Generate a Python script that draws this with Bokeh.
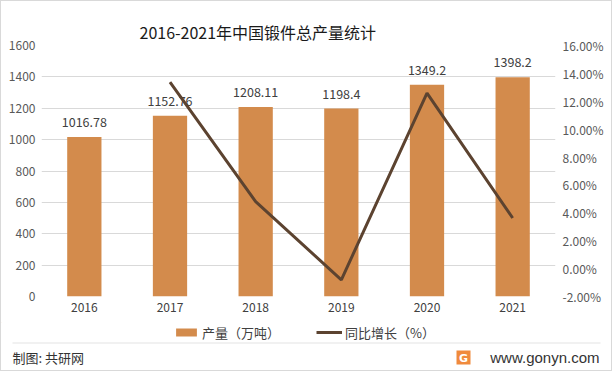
from bokeh.plotting import figure
from bokeh.layouts import column
from bokeh.models import (Range1d, LinearAxis, Legend, LegendItem,
                          FixedTicker, CustomJSTickFormatter, ColumnDataSource)
from bokeh.embed import file_html
from bokeh.resources import INLINE
from bokeh.core.properties import value

years = ["2016", "2017", "2018", "2019", "2020", "2021"]
output = [1016.78, 1152.76, 1208.11, 1198.4, 1349.2, 1398.2]
output_labels = ["1016.78", "1152.76", "1208.11", "1198.4", "1349.2", "1398.2"]
growth_years = ["2017", "2018", "2019", "2020", "2021"]
growth = [13.37, 4.80, -0.80, 12.58, 3.63]
left_ticks = [0, 200, 400, 600, 800, 1000, 1200, 1400, 1600]
right_ticks = [-2, 0, 2, 4, 6, 8, 10, 12, 14, 16]
title_text = "2016-2021年中国锻件总产量统计"
series_names = ["产量（万吨）", "同比增长（%）"]
source_text = "制图: 共研网"
site_text = "www.gonyn.com"

FONT = "Microsoft YaHei, Noto Sans CJK SC"
TXT = "#595959"
BAR = "#D38B4C"
LINE = "#5C4330"
W = 610

# ---- main chart (with title) ----
p = figure(x_range=years, width=W, height=321, output_backend="svg",
           toolbar_location=None, y_range=Range1d(0, 1600), title=title_text,
           min_border_left=40, min_border_right=56, min_border_top=44, min_border_bottom=26)
p.frame_align = False
p.title.align = "left"
p.title.offset = 98
p.title.standoff = 4
p.title.text_font_size = "16px"
p.title.text_font_style = "normal"
p.title.text_color = "#1a1a1a"
p.title.text_font = FONT
p.extra_y_ranges = {"g": Range1d(-2, 16)}
p.outline_line_color = None
p.background_fill_color = "white"
p.border_fill_color = "white"

src = ColumnDataSource(dict(x=years, y=output, lab=output_labels))
bars = p.vbar(x="x", top="y", width=0.4, source=src, fill_color=BAR, line_color=None)
p.text(x="x", y="y", text="lab", source=src, text_align="center", text_baseline="bottom",
       y_offset=-10, text_font_size="12.5px", text_color="#404040", text_font=value(FONT))

gsrc = ColumnDataSource(dict(x=growth_years, y=growth))
ln = p.line(x="x", y="y", source=gsrc, y_range_name="g", line_color=LINE, line_width=3)

p.yaxis.ticker = FixedTicker(ticks=left_ticks)
ax = p.yaxis[0]
ra = LinearAxis(y_range_name="g", ticker=FixedTicker(ticks=right_ticks),
                formatter=CustomJSTickFormatter(code="return tick.toFixed(2) + '%';"))
p.add_layout(ra, "right")
xa = p.xaxis[0]
for a, so in ((ax, 6), (ra, 7), (xa, 6)):
    a.axis_line_color = None
    a.major_tick_line_color = None
    a.minor_tick_line_color = None
    a.major_tick_out = 0
    a.major_tick_in = 0
    a.major_label_standoff = so
    a.major_label_text_font_size = "12px"
    a.major_label_text_color = TXT
    a.major_label_text_font = FONT
xa.major_label_text_color = "#404040"

p.xgrid.grid_line_color = None
p.ygrid.grid_line_color = "#d9d9d9"
p.ygrid.grid_line_width = 1

# ---- footer (legend + source) ----
foot = figure(width=W, height=48, output_backend="svg", toolbar_location=None,
              x_range=Range1d(1, 611), y_range=Range1d(370, 322),
              min_border=0, min_border_left=0, min_border_right=0,
              min_border_top=0, min_border_bottom=0)
foot.frame_align = False
foot.axis.visible = False
foot.grid.visible = False
foot.outline_line_color = None
foot.border_fill_color = "white"
foot.background_fill_color = "white"

dbar = foot.vbar(x=[-100], top=[0], bottom=[1], width=1, fill_color=BAR, line_color=None)
dline = foot.line(x=[-100, -90], y=[0, 0], line_color=LINE, line_width=3)
legend = Legend(items=[LegendItem(label=series_names[0], renderers=[dbar]),
                       LegendItem(label=series_names[1], renderers=[dline])],
                orientation="horizontal", location=(172, 28),
                glyph_width=26, glyph_height=10, label_standoff=3, spacing=36,
                padding=0, margin=0, border_line_color=None, background_fill_alpha=0,
                label_height=20, label_text_font_size="13px", label_text_color="#404040",
                label_text_font=FONT)
foot.add_layout(legend)
foot.segment(x0=[12], y0=[342.5], x1=[600], y1=[342.5], line_color="#e3e3e3", line_width=1)
foot.text(x=[12], y=[357], text=[source_text], text_baseline="middle",
          text_font_size="13px", text_color="#333333", text_font=value(FONT))
foot.text(x=[599], y=[357], text=[site_text], text_align="right", text_baseline="middle",
          text_font_size="15px", text_color="#333333", text_font=value("Liberation Sans"))
foot.quad(left=[456], right=[470], top=[350], bottom=[364], fill_color="#F08A3C", line_color=None)
foot.text(x=[463], y=[357.5], text=["G"], text_align="center", text_baseline="middle",
          text_font_size="11px", text_color="white", text_font_style="bold",
          text_font=value("DejaVu Sans"))

layout = column(p, foot, spacing=0, styles={"border": "1px solid #d9d9d9"})
open("out.html", "w").write(file_html(layout, INLINE))
